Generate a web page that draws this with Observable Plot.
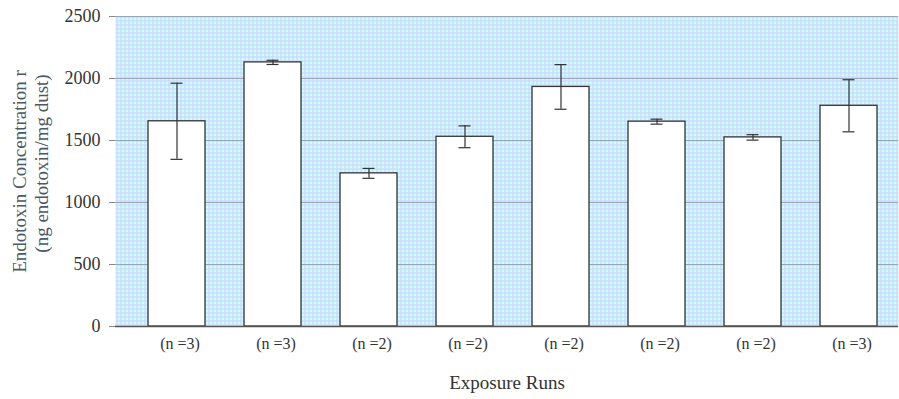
<!DOCTYPE html>
<html>
<head>
<meta charset="utf-8">
<script src="https://cdn.jsdelivr.net/npm/d3@7"></script>
<script src="https://cdn.jsdelivr.net/npm/@observablehq/plot@0.6"></script>
<style>
  html, body { margin: 0; padding: 0; background: white; }
</style>
</head>
<body>
<div id="chart"></div>
<script>
const runs = [1, 2, 3, 4, 5, 6, 7, 8];
const nLabels = ["(n =3)", "(n =3)", "(n =2)", "(n =2)", "(n =2)", "(n =2)", "(n =2)", "(n =3)"];
const means = [1655, 2130, 1235, 1530, 1932, 1652, 1525, 1780];
const errors = [307, 17, 40, 88, 180, 20, 22, 210];
const yTicks = [0, 500, 1000, 1500, 2000, 2500];
const xTitle = "Exposure Runs";
const yTitle1 = "Endotoxin Concentration r";
const yTitle2 = "(ng endotoxin/mg dust)";

const data = runs.map((r, i) => ({run: r, n: nLabels[i], mean: means[i], err: errors[i]}));

const chart = Plot.plot({
  width: 899,
  height: 399,
  marginLeft: 115,
  marginRight: 1,
  marginTop: 16,
  marginBottom: 73,
  style: {fontFamily: "Liberation Serif, Times New Roman, serif", fontSize: "17px", color: "#333", background: "white"},
  x: {type: "band", domain: runs, range: [125, 899], paddingInner: 0.41, paddingOuter: 0.207, label: null},
  y: {domain: [0, 2500], label: null},
  marks: [
    Plot.frame({fill: "url(#bgpat)", stroke: "none"}),
    Plot.gridY(yTicks.filter(t => t > 0), {stroke: "#98a6b8", strokeOpacity: 1, strokeWidth: 1}),
    Plot.barY(data, {x: "run", y: "mean", fill: "white", stroke: "#333", strokeWidth: 1.3}),
    Plot.ruleX(data, {x: "run", y1: d => d.mean - d.err, y2: d => d.mean + d.err, stroke: "#333", strokeWidth: 1.2}),
    Plot.tickY(data, {x: "run", y: d => d.mean + d.err, stroke: "#333", strokeWidth: 1.2, insetLeft: 22.5, insetRight: 22.5}),
    Plot.tickY(data, {x: "run", y: d => d.mean - d.err, stroke: "#333", strokeWidth: 1.2, insetLeft: 22.5, insetRight: 22.5}),
    Plot.ruleY([0], {stroke: "#555", strokeWidth: 1.3}),
    Plot.axisY({ticks: yTicks, tickFormat: d => String(d), tickSize: 6, tickPadding: 9, fontSize: 18, stroke: "#888", fill: "#333", label: null}),
    Plot.axisX({tickSize: 0, tickPadding: 11, tickFormat: r => nLabels[r - 1], fontSize: 16, fill: "#333", label: null, dx: 3}),
    Plot.text([xTitle], {frameAnchor: "bottom", dy: 62, fontSize: 19, fill: "#333"}),
    Plot.text([yTitle1], {frameAnchor: "left", textAnchor: "middle", rotate: -90, dx: -95.5, dy: 0, fontSize: 19, fill: "#4a5868"}),
    Plot.text([yTitle2], {frameAnchor: "left", textAnchor: "middle", rotate: -90, dx: -74, dy: -8, fontSize: 19, fill: "#4a5868"})
  ]
});

// background texture (cyan with lavender grid), as in the reference
const svgNS = "http://www.w3.org/2000/svg";
const defs = document.createElementNS(svgNS, "defs");
const pat = document.createElementNS(svgNS, "pattern");
pat.setAttribute("id", "bgpat");
pat.setAttribute("width", "4");
pat.setAttribute("height", "4");
pat.setAttribute("patternUnits", "userSpaceOnUse");
const base = document.createElementNS(svgNS, "rect");
base.setAttribute("width", "4"); base.setAttribute("height", "4"); base.setAttribute("fill", "#c8ffff");
const h = document.createElementNS(svgNS, "rect");
h.setAttribute("width", "4"); h.setAttribute("height", "1"); h.setAttribute("fill", "#d4cdf8");
const v = document.createElementNS(svgNS, "rect");
v.setAttribute("width", "1"); v.setAttribute("height", "4"); v.setAttribute("fill", "#d4cdf8");
pat.appendChild(base); pat.appendChild(h); pat.appendChild(v);
defs.appendChild(pat);
chart.insertBefore(defs, chart.firstChild);

document.getElementById("chart").appendChild(chart);
</script>
</body>
</html>
